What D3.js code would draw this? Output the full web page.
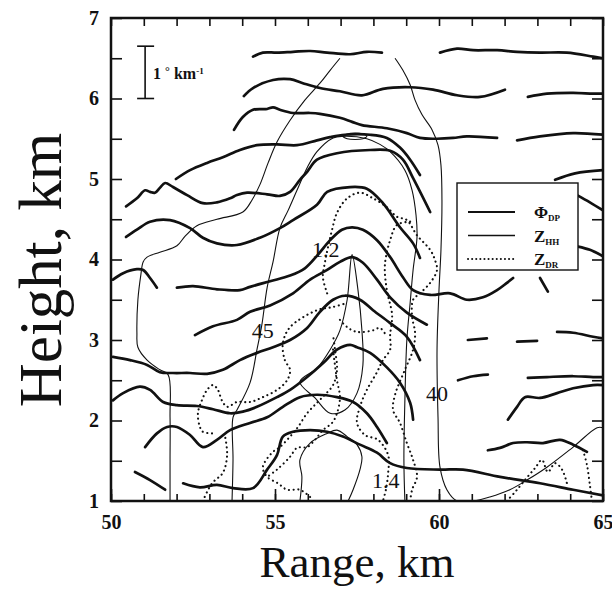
<!DOCTYPE html>
<html>
<head>
<meta charset="utf-8">
<script src="https://cdn.jsdelivr.net/npm/d3@7"></script>
<style>
  body { margin: 0; background: #fff; }
  svg { display: block; background: #fff; }
  text { font-family: "Liberation Serif", "Times New Roman", serif; fill: #111; }
</style>
</head>
<body>
<svg id="chart" width="612" height="594"></svg>
<script>
// ---- axis values ----
const xMajorTicks = [50, 55, 60, 65];
const xMinorTicks = d3.range(50, 65.01, 1);
const yMajorTicks = [1, 2, 3, 4, 5, 6, 7];
const yMinorTicks = d3.range(1, 7.01, 0.5);

// ---- Phi_DP contours (thick), [range km, height km] ----
const phiA  = [[54.33,6.52],[54.63,6.57],[55.06,6.57],[55.55,6.58],[56.07,6.59],[56.59,6.57],[57.29,6.55],[57.80,6.58],[58.26,6.57]];
const phiA2 = [[60.03,6.57],[60.55,6.62],[61.04,6.6],[61.77,6.6],[62.38,6.58],[63.08,6.57],[63.9,6.57],[64.7,6.52],[65,6.5]];
const phiB  = [[54.05,6.03],[54.33,6.13],[54.94,6.23],[55.46,6.24],[55.85,6.19],[56.37,6.13],[56.98,6.09],[57.65,6.04],[58.29,6.12],[59.12,6.14],[59.82,6.11],[60.55,6.04],[61.25,6.02],[62.01,6.11]];
const phiB2 = [[62.71,6.02],[63.29,6.06],[64.09,6.07],[64.7,6.06],[65,6.06]];
const phiC  = [[53.75,5.61],[54.02,5.77],[54.33,5.86],[54.76,5.87],[54.94,5.89],[55.15,5.86],[55.55,5.82],[56.07,5.82],[56.37,5.81],[56.98,5.76],[57.35,5.71],[57.65,5.67],[58.41,5.63],[59.02,5.57],[59.42,5.51],[59.94,5.5],[60.43,5.51],[60.85,5.53],[61.77,5.51]];
const phiC2 = [[62.38,5.48],[63.08,5.53],[64.09,5.57],[65,5.55]];
const phiD  = [[51.98,5.0],[52.41,5.11],[52.93,5.2],[53.41,5.27],[53.93,5.36],[54.45,5.42],[55.06,5.43],[55.67,5.42],[56.28,5.48],[56.68,5.52],[57.13,5.55],[57.9,5.55],[58.41,5.51],[58.81,5.39],[59.12,5.24],[59.42,5.05]];
const phiE  = [[50.46,4.66],[50.79,4.76],[51.04,4.86],[51.19,4.84],[51.34,4.83],[51.49,4.89],[51.65,4.95],[51.89,4.9],[52.32,4.8],[52.8,4.7],[53.23,4.71],[53.63,4.76],[53.84,4.8],[54.15,4.83],[54.76,4.81],[55.15,4.79],[55.46,4.84],[55.76,4.99],[55.98,5.09],[56.28,5.24],[56.89,5.32],[57.9,5.36],[58.51,5.35],[58.9,5.24],[59.21,5.01],[59.73,4.59]];
const phiF  = [[50.46,4.28],[50.79,4.37],[51.19,4.47],[51.8,4.49],[52.41,4.39],[52.8,4.27],[53.23,4.2],[53.84,4.18],[54.54,4.27],[55.15,4.39],[55.55,4.49],[56.28,4.68],[56.59,4.84],[57.29,4.9],[57.8,4.88],[58.29,4.7],[58.81,4.4],[59.21,4.2],[59.42,4.02]];
const phiT1 = [[50.06,3.75],[50.37,3.83],[50.79,3.88],[50.98,3.87],[51.19,3.77],[51.4,3.65]];
const phiT2 = [[52.01,3.65],[52.5,3.67],[53.23,3.63],[53.93,3.62],[54.24,3.66],[54.85,3.73],[55.46,3.8],[55.91,3.89],[56.31,4.06],[56.68,4.24],[57.04,4.37],[57.35,4.4],[57.68,4.37],[58.11,4.24],[58.51,4.03],[58.9,3.78],[59.21,3.62],[59.73,3.56],[60.34,3.58],[60.85,3.5],[61.34,3.53],[61.77,3.62],[62.07,3.71],[62.26,3.77]];
const phiG  = [[52.56,3.06],[53.11,3.17],[53.84,3.25],[54.24,3.35],[54.85,3.43],[55.55,3.58],[56.07,3.75],[56.59,3.87],[56.98,3.97],[57.35,4.03],[57.68,3.96],[58.11,3.75],[58.51,3.53],[59.02,3.34],[59.63,3.19]];
const phiH  = [[50.06,2.79],[50.58,2.75],[51.1,2.69],[51.49,2.6],[51.89,2.59],[52.41,2.59],[52.93,2.58],[53.41,2.63],[53.93,2.75],[54.45,2.84],[54.94,2.91],[55.46,3.0],[55.98,3.15],[56.37,3.35],[56.77,3.5],[57.13,3.55],[57.59,3.5],[57.99,3.37],[58.51,3.21],[59.02,3.04],[59.42,2.75]];
const phiI  = [[50.06,2.25],[50.37,2.34],[50.88,2.42],[51.19,2.38],[51.59,2.23],[52.01,2.19],[52.62,2.18],[53.11,2.14],[53.63,2.09],[54.02,2.11],[54.45,2.17],[55.06,2.29],[55.46,2.38],[55.98,2.54],[56.46,2.71],[56.89,2.88],[57.29,2.94],[57.5,2.91],[57.9,2.84],[58.41,2.66],[58.81,2.47],[59.12,2.22],[59.21,2.01]];
const phiJ  = [[51.04,1.67],[51.4,1.84],[51.71,1.92],[52.01,1.92],[52.41,1.82],[52.8,1.67],[53.23,1.76],[53.63,1.88],[54.24,1.97],[54.76,2.04],[55.24,2.17],[55.76,2.29],[56.28,2.32],[56.89,2.29],[57.38,2.23],[57.8,2.09],[58.11,1.92],[58.41,1.72]];
const phiK  = [[50.73,1.36],[51.19,1.26],[51.65,1.14]];
const phiL  = [[52.2,1.22],[52.71,1.17],[53.23,1.2],[53.72,1.16],[54.33,1.16],[54.76,1.39],[55.06,1.57],[55.24,1.8],[55.55,1.86],[56.07,1.88],[56.59,1.86],[57.07,1.8],[57.59,1.7],[58.11,1.6],[58.51,1.47],[59.02,1.41],[60.03,1.39],[60.73,1.39],[61.86,1.3],[63.08,1.22],[64.09,1.14],[65,1.07]];
const phiN1 = [[60.88,3.0],[61.46,3.02]];
const phiN2 = [[62.38,2.98],[62.99,2.99]];
const phiN3 = [[63.6,3.1],[64.09,3.09],[64.7,3.04],[65,3.02]];
const phiN4 = [[60.58,2.5],[61.04,2.55],[61.49,2.57]];
const phiN5 = [[62.71,2.53],[63.29,2.54],[64.09,2.55],[64.7,2.54],[65,2.54]];
const phiN6 = [[62.1,2.01],[62.38,2.17],[62.62,2.29],[63.08,2.28],[63.6,2.34],[64.09,2.4],[64.7,2.44],[65,2.44]];
const phiN7 = [[61.49,1.63],[61.86,1.66],[62.26,1.72],[62.68,1.73],[63.17,1.72],[63.69,1.76],[64.09,1.7],[64.51,1.61]];
const phiS  = [[63.08,3.77],[63.32,3.6]];
const phiR1 = [[63.54,4.99],[64.15,5.07],[65,5.11]];
const phiR2 = [[64.21,4.8],[64.6,4.71],[65,4.61]];
const phiR3 = [[64.24,4.16],[64.6,4.12],[65,4.04]];
const phiDpLines = [phiA, phiA2, phiB, phiB2, phiC, phiC2, phiD, phiE, phiF, phiT1, phiT2, phiG, phiH, phiI, phiJ, phiK, phiL,
                    phiN1, phiN2, phiN3, phiN4, phiN5, phiN6, phiN7, phiS, phiR1, phiR2, phiR3];

// ---- Z_HH contours (thin) ----
const zhh40a = [[51.8,1],[51.8,1.51],[51.8,2.04],[51.74,2.57],[51.49,2.63],[51.1,2.75],[50.82,2.91],[50.79,3.09],[50.82,3.5],[50.91,3.81],[50.98,3.97],[51.1,4.03],[51.49,4.09],[52.01,4.17],[52.26,4.29],[52.62,4.42],[53.23,4.5],[54.02,4.59],[54.3,4.74],[54.54,4.93],[54.79,5.2],[55.06,5.46],[55.46,5.73],[55.91,5.98],[56.37,6.19],[56.68,6.35],[56.98,6.5]];
const zhh40b = [[58.66,6.5],[58.9,6.35],[59.12,6.17],[59.27,5.98],[59.48,5.8],[59.79,5.61],[59.97,5.42],[60.06,5.17],[60.09,4.74],[60.06,4.12],[60.0,3.62],[59.94,2.88],[59.97,2.04],[60.03,1.42],[60.24,1.14],[60.55,1.0],[61.04,1.0],[61.55,1.05],[62.16,1.14],[62.68,1.26],[63.29,1.42],[64.09,1.67],[64.82,1.91],[65,1.91]];
const zhh45 = [[53.69,1],[53.72,1.51],[53.72,2.04],[53.84,2.13],[54.24,2.47],[54.45,2.88],[54.6,3.19],[54.76,3.65],[54.94,3.97],[55.15,4.39],[55.4,4.61],[55.67,4.86],[55.98,5.14],[56.28,5.34],[56.77,5.51],[57.07,5.53],[57.8,5.5],[58.2,5.43],[58.51,5.34],[58.96,5.11],[59.18,4.86],[59.3,4.55],[59.33,4.28],[59.21,3.87],[59.12,3.46],[59.02,3.0],[58.96,2.25],[58.93,1.51],[58.96,1]];
const zhh50c = [[55.76,1],[55.82,1.3],[55.76,1.51],[56.07,1.72],[56.59,1.84],[56.89,1.88],[57.2,1.8],[57.5,1.7],[57.65,1.55],[57.59,1.39],[57.38,1.14],[57.23,1]];
const zhhOpen = [zhh40a, zhh40b, zhh45, zhh50c];
const zhhCell = [[57.07,5.53],[57.2,5.56],[57.44,5.57],[57.68,5.56],[57.8,5.53],[57.68,5.5],[57.44,5.49],[57.2,5.5]];
const zhhCore = [[57.35,4.06],[57.53,3.62],[57.65,3.12],[57.68,2.69],[57.5,2.34],[57.13,2.13],[56.68,2.09],[56.22,2.28],[55.76,2.48],[56.28,2.65],[56.68,2.88],[56.98,3.12],[57.2,3.5]];
const zhhClosed = [zhhCell, zhhCore];

// ---- Z_DR contours (dotted) ----
const zdrOuter = [[56.59,3.58],[56.46,3.78],[56.52,3.96],[56.62,4.16],[56.74,4.37],[56.89,4.58],[57.2,4.76],[57.59,4.83],[57.99,4.76],[58.41,4.65],[58.72,4.53],[59.02,4.49],[59.33,4.3],[59.73,4.12],[59.88,3.99],[59.94,3.87],[59.73,3.71],[59.42,3.58],[59.21,3.5],[59.18,3.29],[59.27,3.09],[59.21,2.88],[58.96,2.63],[58.66,2.32],[58.6,2.13],[58.81,1.97],[59.02,1.72],[59.21,1.51],[59.33,1.3],[59.18,1.14],[59.12,1]];
const zdrInner = [[59.12,4.47],[58.72,4.43],[58.51,4.24],[58.35,3.93],[58.41,3.62],[58.57,3.31],[58.51,3.06],[58.51,2.88],[58.29,2.75],[58.11,2.6],[57.8,2.38],[57.59,2.17],[57.5,1.97],[57.74,1.82],[58.14,1.76],[58.45,1.57],[58.45,1.35],[58.38,1.14],[58.29,1]];
const zdrHook  = [[56.98,3.25],[57.2,3.16],[57.5,3.1],[57.99,3.12],[58.2,3.15],[58.41,3.04]];
const zdrLeft  = [[53.08,1.84],[52.8,1.86],[52.71,1.92],[52.65,2.09],[52.77,2.25],[52.93,2.38],[53.11,2.44],[53.26,2.38],[53.38,2.25],[53.54,2.17],[53.84,2.23],[54.24,2.23],[54.63,2.29],[55.06,2.38],[55.37,2.5],[55.46,2.63],[55.3,2.75],[55.24,2.96],[55.46,3.16],[56.28,3.37],[56.77,3.41],[57.2,3.46]];
const zdrFoot  = [[52.8,1],[53.08,1.22],[53.41,1.35],[53.54,1.57],[53.48,1.8]];
const zdrMidA  = [[56.07,1.05],[55.76,1.14],[55.37,1.14],[55.09,1.22],[54.76,1.3],[54.63,1.42],[54.91,1.6],[55.15,1.67],[55.46,1.8],[55.7,1.92],[55.98,2.09],[56.28,2.22],[56.52,2.32],[56.77,2.44],[56.89,2.63],[56.83,2.88],[56.77,3.06]];
const zdrMidB  = [[56.77,2.88],[56.89,2.5],[56.98,2.29],[56.89,2.09],[56.74,1.97],[56.46,1.88],[56.22,1.76],[55.98,1.67],[55.67,1.66],[55.46,1.55],[55.06,1.39],[54.76,1.3]];
const zdrFar   = [[62.07,1],[62.38,1.14],[62.68,1.29],[62.93,1.41],[63.14,1.51],[63.32,1.36],[63.54,1.47],[63.75,1.39],[63.9,1.22]];
const zdrEdge  = [[64.39,1.63],[64.51,1.45],[64.6,1.2],[64.66,1.01]];
const zdrLines = [zdrOuter, zdrInner, zdrHook, zdrLeft, zdrFoot, zdrMidA, zdrMidB, zdrFar, zdrEdge];

// ---- contour labels ----
const contourLabels = [
  {text: "45",  r: 54.63, h: 3.12},
  {text: "1.2", r: 56.55, h: 4.12},
  {text: "40",  r: 59.94, h: 2.34},
  {text: "1.4", r: 58.38, h: 1.25}
];

// ---- drawing ----
const svg = d3.select("#chart");
const x = d3.scaleLinear().domain([50, 65]).range([111, 603]);
const y = d3.scaleLinear().domain([1, 7]).range([501, 18]);

svg.append("defs").append("clipPath").attr("id", "plot")
  .append("rect").attr("x", x(50)).attr("y", y(7))
  .attr("width", x(65) - x(50)).attr("height", y(1) - y(7));

const line = d3.line().x(d => x(d[0])).y(d => y(d[1])).curve(d3.curveCatmullRom.alpha(0.5));
const loop = d3.line().x(d => x(d[0])).y(d => y(d[1])).curve(d3.curveCatmullRomClosed.alpha(0.5));

const plot = svg.append("g").attr("clip-path", "url(#plot)");

// thin reflectivity contours
plot.selectAll("path.zhh").data(zhhOpen).enter().append("path")
  .attr("class", "zhh").attr("d", line)
  .attr("fill", "none").attr("stroke", "#111").attr("stroke-width", 1.1);
plot.selectAll("path.zhhc").data(zhhClosed).enter().append("path")
  .attr("class", "zhhc").attr("d", loop)
  .attr("fill", "none").attr("stroke", "#111").attr("stroke-width", 1.1);

// dotted Zdr contours
plot.selectAll("path.zdr").data(zdrLines).enter().append("path")
  .attr("class", "zdr").attr("d", line)
  .attr("fill", "none").attr("stroke", "#111").attr("stroke-width", 2.1)
  .attr("stroke-linecap", "round").attr("stroke-dasharray", "0.1 4.6");

// thick Phi_DP contours
plot.selectAll("path.phi").data(phiDpLines).enter().append("path")
  .attr("class", "phi").attr("d", line)
  .attr("fill", "none").attr("stroke", "#111").attr("stroke-width", 2.7)
  .attr("stroke-linecap", "round").attr("stroke-linejoin", "round");

// contour value labels
svg.selectAll("text.clab").data(contourLabels).enter().append("text")
  .attr("class", "clab")
  .attr("x", d => x(d.r)).attr("y", d => y(d.h))
  .attr("text-anchor", "middle").attr("dominant-baseline", "central")
  .style("font-size", "22px")
  .text(d => d.text);

// axes (ticks point inward)
function styleAxis(g) {
  g.select(".domain").remove();
  g.selectAll(".tick line").attr("stroke", "#111").attr("stroke-width", 1.6);
  g.selectAll("text").style("font-family", "'Liberation Serif', serif")
    .style("font-size", "20px").style("font-weight", "bold").attr("fill", "#111");
}
svg.append("g").attr("transform", `translate(0,${y(1)})`)
  .call(d3.axisBottom(x).tickValues(xMinorTicks).tickSize(-7).tickFormat("")).call(styleAxis);
svg.append("g").attr("transform", `translate(0,${y(1)})`)
  .call(d3.axisBottom(x).tickValues(xMajorTicks).tickSize(-12).tickPadding(14).tickFormat(d3.format("d"))).call(styleAxis);
svg.append("g").attr("transform", `translate(0,${y(7)})`)
  .call(d3.axisTop(x).tickValues(xMinorTicks).tickSize(-8).tickFormat("")).call(styleAxis);
svg.append("g").attr("transform", `translate(${x(50)},0)`)
  .call(d3.axisLeft(y).tickValues(yMinorTicks).tickSize(-11).tickFormat("")).call(styleAxis);
svg.append("g").attr("transform", `translate(${x(50)},0)`)
  .call(d3.axisLeft(y).tickValues(yMajorTicks).tickSize(0).tickPadding(12).tickFormat(d3.format("d"))).call(styleAxis);
svg.append("g").attr("transform", `translate(${x(65)},0)`)
  .call(d3.axisRight(y).tickValues(yMinorTicks).tickSize(-11).tickFormat("")).call(styleAxis);

// frame
svg.append("rect").attr("x", x(50)).attr("y", y(7))
  .attr("width", x(65) - x(50)).attr("height", y(1) - y(7))
  .attr("fill", "none").attr("stroke", "#111").attr("stroke-width", 2.5);

// scale bar: 1 deg per km
const barX = x(51.04);
const bar = svg.append("g");
bar.append("line").attr("x1", barX).attr("x2", barX).attr("y1", y(6.65)).attr("y2", y(6.0))
  .attr("stroke", "#111").attr("stroke-width", 1.6);
[6.65, 6.0].forEach(v => bar.append("line")
  .attr("x1", barX - 8).attr("x2", barX + 9).attr("y1", y(v)).attr("y2", y(v))
  .attr("stroke", "#111").attr("stroke-width", 1.6));
const barText = bar.append("text").attr("x", barX + 8).attr("y", y(6.32) + 6)
  .style("font-size", "16px").style("font-weight", "bold");
barText.append("tspan").text("1 ");
barText.append("tspan").attr("dy", -4).style("font-size", "12px").text("°");
barText.append("tspan").attr("dy", 4).text(" km");
barText.append("tspan").attr("dy", -5).style("font-size", "9px").text("-1");

// legend
const lg = svg.append("g");
lg.append("rect").attr("x", 457).attr("y", 183).attr("width", 121).attr("height", 87)
  .attr("fill", "#fff").attr("stroke", "#111").attr("stroke-width", 1.4);
const legendItems = [
  {main: "Φ", sub: "DP", w: 2.2, dash: null},
  {main: "Z", sub: "HH", w: 1.6, dash: null},
  {main: "Z", sub: "DR", w: 2.0, dash: "0.1 4"}
];
legendItems.forEach((d, i) => {
  const ly = 212 + i * 23.5;
  lg.append("line").attr("x1", 468).attr("x2", 515).attr("y1", ly).attr("y2", ly)
    .attr("stroke", "#111").attr("stroke-width", d.w)
    .attr("stroke-linecap", d.dash ? "round" : "butt")
    .attr("stroke-dasharray", d.dash);
  const t = lg.append("text").attr("x", 534).attr("y", ly + 6)
    .style("font-size", "17px").style("font-weight", "bold");
  t.append("tspan").text(d.main);
  t.append("tspan").attr("dy", 3).style("font-size", "9px").text(d.sub);
});

// axis titles
svg.append("text").attr("x", 357).attr("y", 577).attr("text-anchor", "middle")
  .style("font-size", "45px").text("Range, km");
svg.append("text").attr("transform", "translate(61,270) rotate(-90)").attr("text-anchor", "middle")
  .style("font-size", "61px").text("Height, km");
</script>
</body>
</html>
